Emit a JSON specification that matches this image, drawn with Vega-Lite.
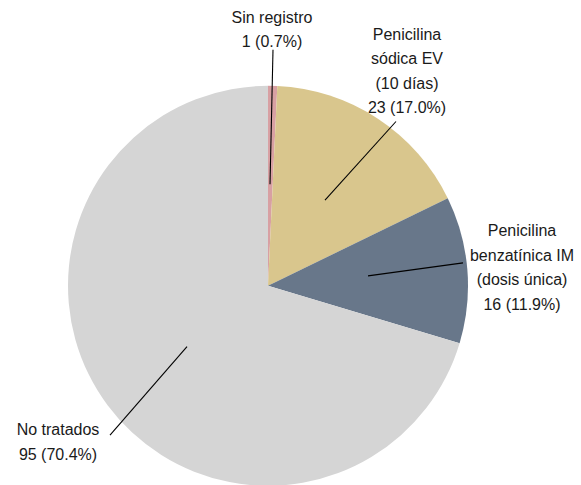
{
  "$schema": "https://vega.github.io/schema/vega-lite/v6.json",
  "width": 581,
  "height": 485,
  "autosize": {"type": "fit", "contains": "padding"},
  "padding": 0,
  "background": "white",
  "config": {"view": {"stroke": null}},
  "datasets": {
    "slices": [
      {"grupo": "Sin registro", "n": 1, "orden": 1},
      {"grupo": "Penicilina sódica EV (10 días)", "n": 23, "orden": 2},
      {"grupo": "Penicilina benzatínica IM (dosis única)", "n": 16, "orden": 3},
      {"grupo": "No tratados", "n": 95, "orden": 4}
    ],
    "labels": [
      {"texto": "Sin registro\n1 (0.7%)", "u": 0.02, "v": 1.345},
      {"texto": "Penicilina\nsódica EV\n(10 días)\n23 (17.0%)", "u": 0.695, "v": 1.26},
      {"texto": "Penicilina\nbenzatínica IM\n(dosis única)\n16 (11.9%)", "u": 1.27, "v": 0.275},
      {"texto": "No tratados\n95 (70.4%)", "u": -1.05, "v": -0.725}
    ],
    "leaders": [
      {"u1": 0.025, "v1": 1.185, "u2": 0.01, "v2": 0.51},
      {"u1": 0.64, "v1": 0.825, "u2": 0.285, "v2": 0.43},
      {"u1": 0.975, "v1": 0.115, "u2": 0.5, "v2": 0.05},
      {"u1": -0.79, "v1": -0.75, "u2": -0.405, "v2": -0.305}
    ]
  },
  "layer": [
    {
      "data": {"name": "slices"},
      "mark": {"type": "arc", "outerRadius": 200},
      "encoding": {
        "x": {"datum": 0, "type": "quantitative", "scale": {"domain": [-1.34, 1.565], "nice": false, "zero": false}, "axis": null},
        "y": {"datum": 0, "type": "quantitative", "scale": {"domain": [-0.99, 1.435], "nice": false, "zero": false}, "axis": null},
        "theta": {"field": "n", "type": "quantitative", "stack": true},
        "order": {"field": "orden", "type": "quantitative"},
        "color": {
          "field": "grupo", "type": "nominal", "legend": null,
          "scale": {
            "domain": ["Sin registro", "Penicilina sódica EV (10 días)", "Penicilina benzatínica IM (dosis única)", "No tratados"],
            "range": ["#D8A0A3", "#D9C68D", "#68778A", "#D5D5D5"]
          }
        }
      }
    },
    {
      "data": {"name": "leaders"},
      "mark": {"type": "rule", "color": "#000000", "strokeWidth": 1.1},
      "encoding": {
        "x": {"field": "u1", "type": "quantitative"},
        "y": {"field": "v1", "type": "quantitative"},
        "x2": {"field": "u2"},
        "y2": {"field": "v2"}
      }
    },
    {
      "data": {"name": "labels"},
      "mark": {"type": "text", "lineBreak": "\n", "font": "Liberation Sans", "fontSize": 16, "lineHeight": 24.5, "align": "center", "baseline": "middle", "color": "#1a1a1a"},
      "encoding": {
        "x": {"field": "u", "type": "quantitative"},
        "y": {"field": "v", "type": "quantitative"},
        "text": {"field": "texto"}
      }
    }
  ]
}
